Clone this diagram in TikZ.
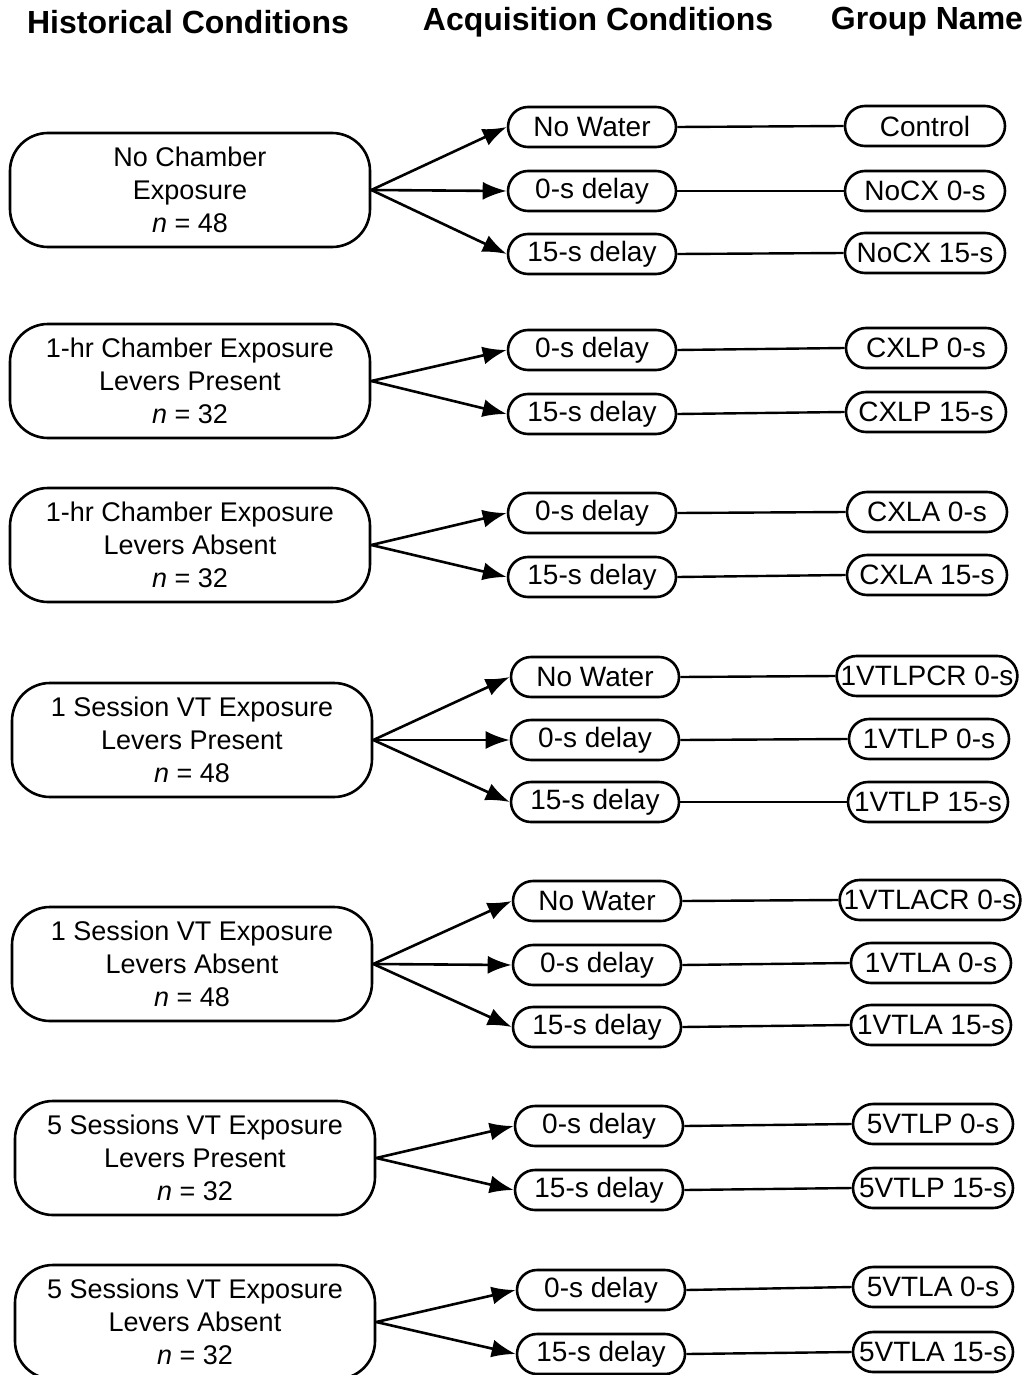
\documentclass[tikz,border=0pt]{standalone}
\usepackage{fontspec}
\setmainfont{Liberation Sans}
\usetikzlibrary{arrows.meta}
\begin{document}
\begin{tikzpicture}[x=1pt,y=-1pt,
 hist/.style={draw, line width=2.6pt, rounded corners=38pt, minimum width=360pt, minimum height=114pt, align=center, font=\fontsize{27}{33}\selectfont, inner sep=0pt},
 acq/.style={draw, line width=2.6pt, rounded corners=20pt, minimum width=168pt, minimum height=40pt, font=\fontsize{28}{30}\selectfont, inner sep=0pt},
 grp/.style={draw, line width=2.6pt, rounded corners=20pt, minimum width=160pt, minimum height=40pt, font=\fontsize{28}{30}\selectfont, inner ysep=0pt, inner xsep=4pt},
 head/.style={font=\bfseries\fontsize{32}{34}\selectfont, inner sep=0pt},
 arr/.style={line width=2.6pt, -{Latex[length=24pt,width=18pt]}},
 lnk/.style={line width=2.4pt}]
\useasboundingbox (0,0) rectangle (1031,1375);
% headers
\node[head] (h1) at (188,22) {Historical Conditions};
\node[head] (h2) at (598,22) {Acquisition Conditions};
\node[head] (h3) at (927,22) {Group Name};
% historical boxes
\node[hist] (b1) at (190,190) {No Chamber\\Exposure\\\textit{n} = 48};
\node[hist] (b2) at (190,381) {1-hr Chamber Exposure\\Levers Present\\\textit{n} = 32};
\node[hist] (b3) at (190,545) {1-hr Chamber Exposure\\Levers Absent\\\textit{n} = 32};
\node[hist] (b4) at (192,740) {1 Session VT Exposure\\Levers Present\\\textit{n} = 48};
\node[hist] (b5) at (192,964) {1 Session VT Exposure\\Levers Absent\\\textit{n} = 48};
\node[hist] (b6) at (195,1158) {5 Sessions VT Exposure\\Levers Present\\\textit{n} = 32};
\node[hist] (b7) at (195,1322) {5 Sessions VT Exposure\\Levers Absent\\\textit{n} = 32};
% acquisition ovals
\node[acq] (a11) at (592,127) {No Water};
\node[acq] (a12) at (592,191) {0-s delay};
\node[acq] (a13) at (592,254) {15-s delay};
\node[acq] (a21) at (592,350) {0-s delay};
\node[acq] (a22) at (592,414) {15-s delay};
\node[acq] (a31) at (592,513) {0-s delay};
\node[acq] (a32) at (592,577) {15-s delay};
\node[acq] (a41) at (595,677) {No Water};
\node[acq] (a42) at (595,740) {0-s delay};
\node[acq] (a43) at (595,802) {15-s delay};
\node[acq] (a51) at (597,901) {No Water};
\node[acq] (a52) at (597,965) {0-s delay};
\node[acq] (a53) at (597,1027) {15-s delay};
\node[acq] (a61) at (599,1126) {0-s delay};
\node[acq] (a62) at (599,1190) {15-s delay};
\node[acq] (a71) at (601,1290) {0-s delay};
\node[acq] (a72) at (601,1354) {15-s delay};
% group ovals
\node[grp] (g11) at (925,126) {Control};
\node[grp] (g12) at (925,191) {NoCX 0-s};
\node[grp] (g13) at (925,253) {NoCX 15-s};
\node[grp] (g21) at (926,348) {CXLP 0-s};
\node[grp] (g22) at (926,412) {CXLP 15-s};
\node[grp] (g31) at (927,512) {CXLA 0-s};
\node[grp] (g32) at (927,575) {CXLA 15-s};
\node[grp] (g41) at (927,676) {1VTLPCR 0-s};
\node[grp] (g42) at (929,739) {1VTLP 0-s};
\node[grp] (g43) at (928,802) {1VTLP 15-s};
\node[grp] (g51) at (930,900) {1VTLACR 0-s};
\node[grp] (g52) at (931,963) {1VTLA 0-s};
\node[grp] (g53) at (931,1025) {1VTLA 15-s};
\node[grp] (g61) at (933,1124) {5VTLP 0-s};
\node[grp] (g62) at (933,1188) {5VTLP 15-s};
\node[grp] (g71) at (933,1287) {5VTLA 0-s};
\node[grp] (g72) at (933,1352) {5VTLA 15-s};
% arrows
\foreach \b/\a in {b1/a11,b1/a12,b1/a13,b2/a21,b2/a22,b3/a31,b3/a32,b4/a41,b4/a42,b4/a43,b5/a51,b5/a52,b5/a53,b6/a61,b6/a62,b7/a71,b7/a72}
  \draw[arr] (\b.east) -- (\a.west);
% links
\foreach \n in {11,12,13,21,22,31,32,41,42,43,51,52,53,61,62,71,72}
  \draw[lnk] (a\n.east) -- (g\n.west);
\end{tikzpicture}
\end{document}
